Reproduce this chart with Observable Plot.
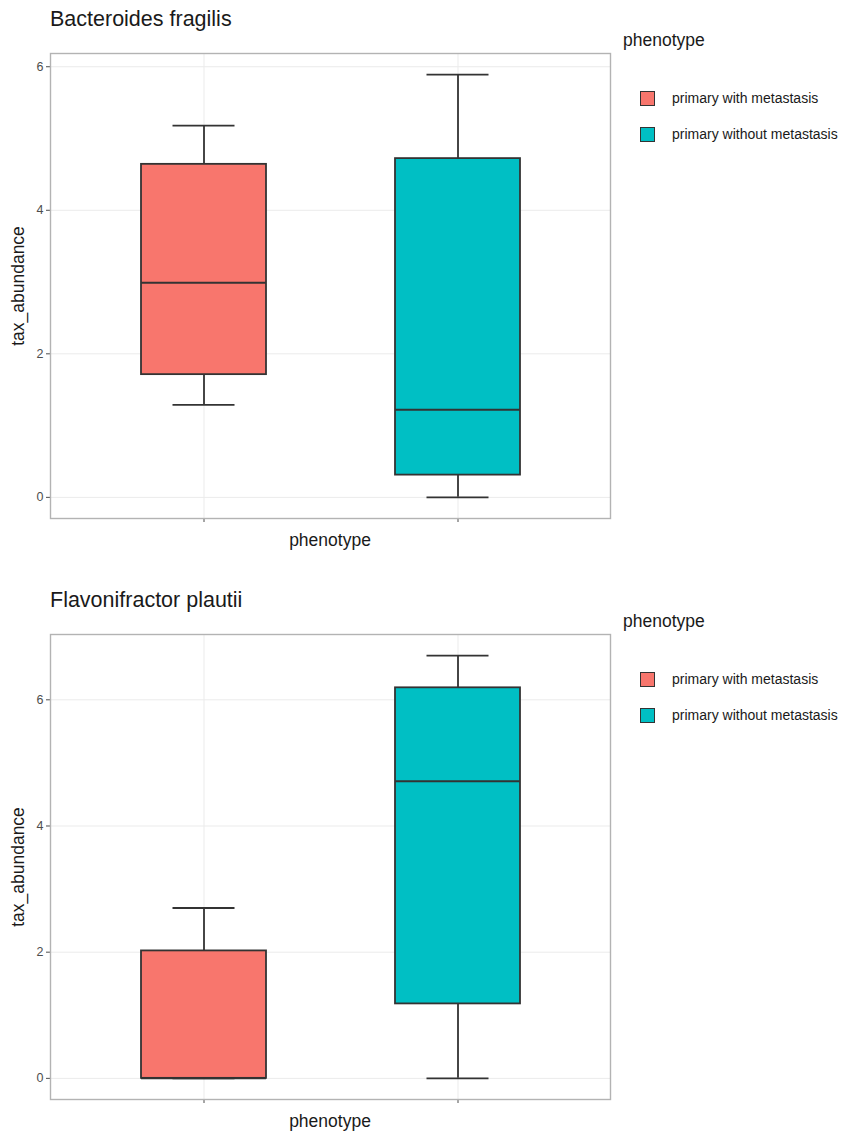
<!DOCTYPE html>
<html>
<head>
<meta charset="utf-8">
<script src="https://cdn.jsdelivr.net/npm/d3@7"></script>
<script src="https://cdn.jsdelivr.net/npm/@observablehq/plot@0.6"></script>
<style>
  body { margin: 0; background: #fff; font-family: "Liberation Sans", Arial, sans-serif; }
  #root { position: relative; width: 842px; height: 1133px; overflow: hidden; }
  .abs { position: absolute; white-space: nowrap; color: #1a1a1a; line-height: 1.15; }
  .title { font-size: 21.5px; }
  .axlab { font-size: 17.5px; }
  .legtitle { font-size: 17.5px; }
  .legitem { font-size: 14px; }
  .key { position: absolute; width: 13px; height: 13px; border: 1.6px solid #333; }
</style>
</head>
<body>
<div id="root"></div>
<script>
const categories = ["primary with metastasis", "primary without metastasis"];
const colors = ["#F8766D", "#00BFC4"];
const titles = ["Bacteroides fragilis", "Flavonifractor plautii"];
const yTicks = [0, 2, 4, 6];

// Bacteroides fragilis
const bfLow = [1.29, 0.00];
const bfQ1  = [1.71, 0.31];
const bfMed = [2.99, 1.22];
const bfQ3  = [4.64, 4.72];
const bfHigh = [5.18, 5.89];

// Flavonifractor plautii
const fpLow = [0.00, 0.00];
const fpQ1  = [0.00, 1.18];
const fpMed = [0.00, 4.71];
const fpQ3  = [2.02, 6.19];
const fpHigh = [2.70, 6.70];

const panels = [
  {title: titles[0], low: bfLow, q1: bfQ1, med: bfMed, q3: bfQ3, high: bfHigh, top: 0},
  {title: titles[1], low: fpLow, q1: fpQ1, med: fpMed, q3: fpQ3, high: fpHigh, top: 581}
];

const root = document.getElementById("root");

function addDiv(cls, text, style) {
  const d = document.createElement("div");
  d.className = "abs " + cls;
  d.textContent = text;
  Object.assign(d.style, style);
  root.appendChild(d);
  return d;
}

for (const p of panels) {
  const rows = categories.map((c, i) => ({
    cat: c, low: p.low[i], q1: p.q1[i], med: p.med[i], q3: p.q3[i], high: p.high[i]
  }));
  const lo = d3.min(p.low), hi = d3.max(p.high);
  const pad = (hi - lo) * 0.05;
  const svg = Plot.plot({
    width: 842,
    height: 560,
    marginLeft: 50,
    marginRight: 232,
    marginTop: 53,
    marginBottom: 42,
    style: {fontFamily: "Liberation Sans, Arial, sans-serif", background: "transparent"},
    x: {type: "band", domain: categories, paddingInner: 0.509, paddingOuter: 0.3545},
    y: {domain: [lo - pad, hi + pad]},
    color: {domain: categories, range: colors},
    marks: [
      Plot.gridY(yTicks, {stroke: "#ebebeb", strokeOpacity: 1, strokeWidth: 1}),
      Plot.gridX(categories, {stroke: "#ebebeb", strokeOpacity: 1, strokeWidth: 1}),
      Plot.ruleX(rows, {x: "cat", y1: "q3", y2: "high", stroke: "#333", strokeWidth: 1.8}),
      Plot.ruleX(rows, {x: "cat", y1: "low", y2: "q1", stroke: "#333", strokeWidth: 1.8}),
      Plot.tickY(rows, {x: "cat", y: "high", stroke: "#333", strokeWidth: 1.8, insetLeft: 31.5, insetRight: 31.5}),
      Plot.tickY(rows, {x: "cat", y: "low", stroke: "#333", strokeWidth: 1.8, insetLeft: 31.5, insetRight: 31.5}),
      Plot.barY(rows, {x: "cat", y1: "q1", y2: "q3", fill: "cat", stroke: "#333", strokeWidth: 1.8}),
      Plot.tickY(rows, {x: "cat", y: "med", stroke: "#333", strokeWidth: 2}),
      Plot.axisY(yTicks, {tickSize: 4, tickPadding: 3, label: null, fontSize: 12.5, fill: "#4d4d4d", stroke: "#4d4d4d", tickFormat: d3.format("d")}),
      Plot.axisX({tickSize: 4, label: null, tickFormat: () => "", stroke: "#4d4d4d"}),
      Plot.frame({stroke: "#b3b3b3", strokeWidth: 1.4}),
      Plot.text(["tax_abundance"], {
        frameAnchor: "left", dx: -32, rotate: -90, text: d => d,
        fontSize: 17.5, fill: "#1a1a1a", textAnchor: "middle", lineAnchor: "middle"
      })
    ]
  });
  svg.style.position = "absolute";
  svg.style.left = "0px";
  svg.style.top = p.top + "px";
  root.appendChild(svg);

  addDiv("title", p.title, {left: "50px", top: (p.top + 7) + "px"});
  addDiv("axlab", "phenotype", {left: "330px", top: (p.top + 530) + "px", transform: "translateX(-50%)"});
  addDiv("legtitle", "phenotype", {left: "623px", top: (p.top + 30) + "px"});
  categories.forEach((c, i) => {
    const k = document.createElement("div");
    k.className = "key";
    k.style.left = "640px";
    k.style.top = (p.top + 91 + i * 36) + "px";
    k.style.background = colors[i];
    root.appendChild(k);
    addDiv("legitem", c, {left: "672px", top: (p.top + 90 + i * 36) + "px"});
  });
}
</script>
</body>
</html>
